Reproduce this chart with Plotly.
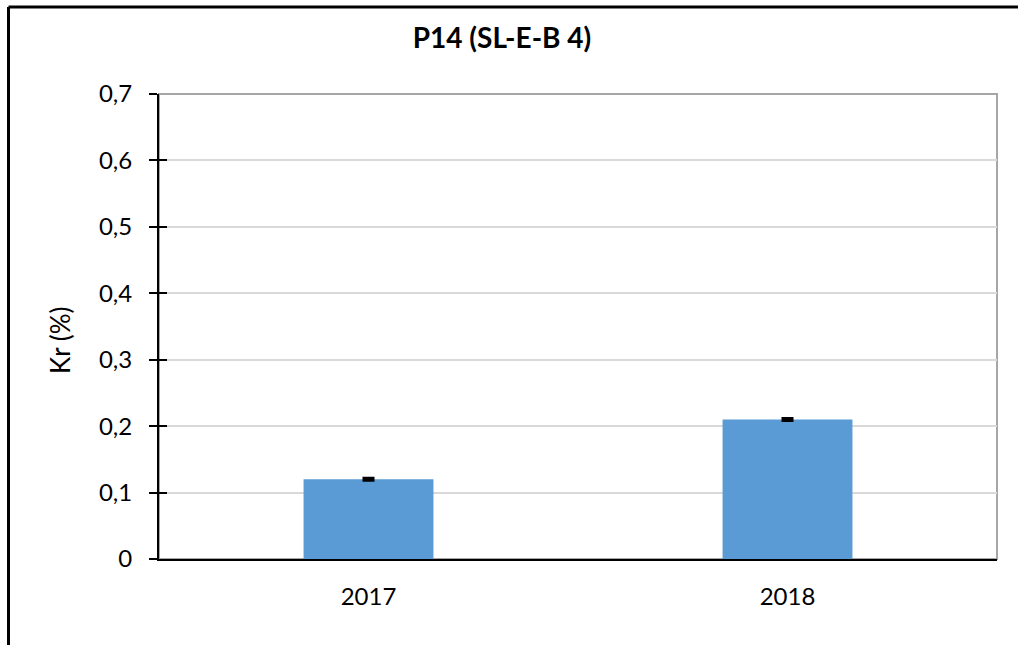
import plotly.graph_objects as go

# Data
years = ["2017", "2018"]
kr_values = [0.12, 0.21]
kr_errors = [0.002, 0.002]
y_tick_values = [0, 0.1, 0.2, 0.3, 0.4, 0.5, 0.6, 0.7]
y_tick_labels = ["0", "0,1", "0,2", "0,3", "0,4", "0,5", "0,6", "0,7"]

W, H = 1018, 645
L, R, T, B = 159, 21, 94, 86
FONT = "Lato"
TICK_SIZE = 24
PW, PH = W - L - R, H - T - B


def px_to_paper(x, y):
    return (x - L) / PW, (H - B - y) / PH


fig = go.Figure()
fig.add_trace(go.Bar(
    x=years,
    y=kr_values,
    width=0.31,
    marker=dict(color="#5B9BD5", line=dict(width=0)),
    error_y=dict(type="data", array=kr_errors, visible=True,
                 color="black", thickness=2.5, width=6),
))
# invisible twin axis to carry the inward half of the crossing ticks
fig.add_trace(go.Scatter(x=years, y=kr_values, yaxis="y2",
                         mode="markers", marker=dict(opacity=0),
                         hoverinfo="skip", showlegend=False))

fig.update_layout(
    width=W, height=H,
    margin=dict(l=L, r=R, t=T, b=B),
    paper_bgcolor="white", plot_bgcolor="white",
    showlegend=False,
    font=dict(family=FONT, size=TICK_SIZE, color="black"),
    title=dict(text="<b>P14 (SL-E-B 4)</b>", font=dict(family=FONT, size=28, color="black"),
               xref="container", yref="container", x=502 / W, y=1 - 38 / H,
               xanchor="center", yanchor="middle"),
    xaxis=dict(showline=True, linecolor="black", linewidth=2,
               ticks="", showgrid=False, ticklabelstandoff=15,
               tickfont=dict(family=FONT, size=TICK_SIZE, color="black")),
    yaxis=dict(range=[0, 0.7], tickvals=y_tick_values, ticktext=y_tick_labels,
               showline=True, linecolor="black", linewidth=2,
               ticks="outside", ticklen=8, tickwidth=2, tickcolor="black",
               showgrid=True, gridcolor="#D9D9D9", gridwidth=2,
               zeroline=False, ticklabelstandoff=12,
               tickfont=dict(family=FONT, size=TICK_SIZE, color="black")),
    yaxis2=dict(range=[0, 0.7], tickvals=y_tick_values, overlaying="y", side="left",
                showticklabels=False, showgrid=False, zeroline=False,
                ticks="inside", ticklen=8, tickwidth=2, tickcolor="black",
                showline=False),
)

# plot-area border (top and right in gray)
fig.add_shape(type="rect", xref="x domain", yref="y domain", x0=0, x1=1, y0=0, y1=1,
              line=dict(color="#A6A6A6", width=2), layer="below")

# outer chart frame
fx0, fy0 = px_to_paper(8.5, 7)
fx1, fy1 = px_to_paper(W + 20, H + 20)
fig.add_shape(type="line", xref="paper", yref="paper", x0=fx0, y0=fy0, x1=fx1, y1=fy0,
              line=dict(color="black", width=3))
fig.add_shape(type="line", xref="paper", yref="paper", x0=fx0, y0=fy0, x1=fx0, y1=fy1,
              line=dict(color="black", width=3))

# y-axis title
ax, ay = px_to_paper(60, 340)
fig.add_annotation(text="Kr (%)", xref="paper", yref="paper", x=ax, y=ay,
                   textangle=-90, showarrow=False, xanchor="center", yanchor="middle",
                   font=dict(family=FONT, size=26, color="black"))

fig.write_html("out.html")
